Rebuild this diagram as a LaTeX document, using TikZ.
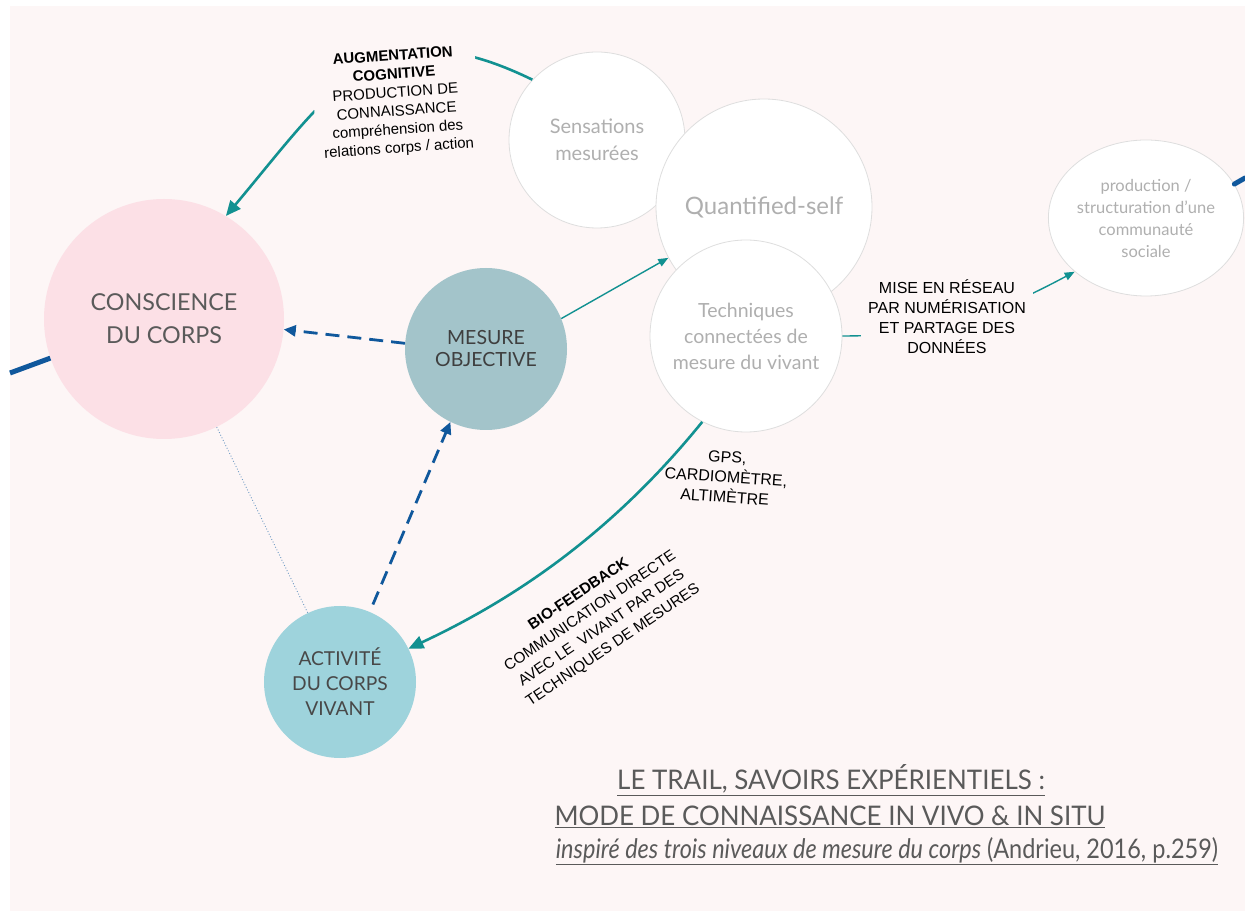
\documentclass[tikz,border=0pt]{standalone}
\usepackage{graphicx}
\usepackage{fontspec}
\setmainfont{Liberation Sans}
\newfontfamily\lato{Lato}
\usetikzlibrary{arrows.meta,shapes.geometric,positioning}

\definecolor{fond}{RGB}{253,246,246}
\definecolor{rose}{RGB}{252,224,230}
\definecolor{grisbleu}{RGB}{163,196,202}
\definecolor{cyanpale}{RGB}{158,211,220}
\definecolor{sarcelle}{RGB}{18,145,145}
\definecolor{bleu}{RGB}{16,88,156}
\definecolor{gristexte}{RGB}{90,90,90}
\definecolor{grisclair}{RGB}{175,175,175}
\definecolor{bord}{RGB}{222,222,222}

\begin{document}
\begin{tikzpicture}[x=1pt,y=1pt,
  bulle/.style={circle,draw=bord,line width=0.8pt,fill=white,text=grisclair,align=center,inner sep=0pt,font=\lato\fontsize{19.5}{26}\selectfont},
  disque/.style={circle,align=center,inner sep=0pt,text=gristexte},
  etiq/.style={fill=fond,align=center,inner xsep=7pt,inner ysep=6pt,font=\fontsize{15}{18.5}\selectfont},
  fleche/.style={sarcelle,line width=2.6pt,-{Triangle[length=15pt,width=13pt]}},
  fine/.style={sarcelle,line width=1.4pt,-{Triangle[length=10pt,width=8pt]}},
  tirets/.style={bleu,line width=2.8pt,dash pattern=on 14pt off 8pt,-{Triangle[length=12pt,width=11pt]}},
  titre/.style={text=gristexte,inner sep=0pt,font=\lato\fontsize{27}{30}\selectfont}]
\fill[white] (0,0) rectangle (1245,911);
\fill[fond] (10,0) rectangle (1245,905);
\useasboundingbox (0,0) rectangle (1245,911);

% les cercles
\node[disque,fill=rose,minimum size=240pt,font=\lato\fontsize{23.3}{33}\selectfont] (conscience) at (164,592) {CONSCIENCE\\DU CORPS};
\node[disque,fill=grisbleu,minimum size=162pt,text=gristexte!70!black,font=\lato\fontsize{19.5}{22}\selectfont] (mesure) at (486,562) {MESURE\\OBJECTIVE};
\node[disque,fill=cyanpale,minimum size=152pt,text=gristexte!80!black,font=\lato\fontsize{19.2}{25}\selectfont] (activite) at (340,229) {ACTIVIT\'E\\DU CORPS\\VIVANT};
\node[bulle,minimum size=176pt,font=\lato\fontsize{20}{27}\selectfont] (sensations) at (597,771) {Sensations\\mesur\'ees};
\node[bulle,minimum size=216pt,font=\lato\fontsize{24}{26}\selectfont] (quantified) at (764,704) {Quantified-self};
\node[bulle,minimum size=192pt] (techniques) at (746,575) {Techniques\\connect\'ees de\\mesure du vivant};
\node[ellipse,draw=bord,line width=0.8pt,fill=white,minimum width=186pt,minimum height=156pt,text=grisclair,align=center,inner sep=0pt,font=\lato\fontsize{16.5}{22}\selectfont] (production) at (1146,693) {production /\\structuration d’une\\communaut\'e\\sociale};

\coordinate (bordgauche) at (10,538);
\coordinate (borddroit) at (1245,733);
\draw[bleu,line width=5pt] (bordgauche) -- (conscience.199);
\draw[bleu,line width=5pt,line cap=round] (production.21) -- (borddroit);

% les liens
\draw[fleche] (sensations.137) .. controls +(154:170) and +(50:170) .. (conscience.59);
\draw[tirets] (mesure.176) -- (conscience.-5);
\draw[tirets,shorten <=8pt] (activite.67) -- (mesure.244);
\draw[bleu!60,line width=0.9pt,dotted] (conscience.-64) -- (activite.115);
\draw[fine] (mesure.22) -- (quantified.208);
\draw[fine] (techniques.east) to[out=0,in=208] (production.217);
\draw[fleche] (techniques.243) to[out=231,in=25,looseness=0.9] (activite.26);

% les etiquettes
\node[etiq,rotate=4] (augmentation) at (396,808) {\textbf{AUGMENTATION}\\\textbf{COGNITIVE}\\PRODUCTION DE\\CONNAISSANCE\\compr\'ehension des\\relations corps / action};
\node[etiq,font=\fontsize{16}{20}\selectfont] (reseau) at (947,594) {MISE EN R\'ESEAU\\PAR NUM\'ERISATION\\ET PARTAGE DES\\DONN\'EES};
\node[align=center,rotate=-4,font=\fontsize{16}{20}\selectfont] (capteurs) at (726,434) {GPS,\\CARDIOM\`ETRE,\\ALTIM\`ETRE};
\node[align=center,rotate=34,font=\fontsize{15.3}{20.5}\selectfont] (biofeedback) at (596,291) {\textbf{BIO-FEEDBACK}\\COMMUNICATION DIRECTE\\AVEC LE~ VIVANT PAR DES\\TECHNIQUES DE MESURES};

% le titre
\node[titre] (titre1) at (831,131) {\scalebox{0.96}[1]{\underline{LE TRAIL, SAVOIRS EXP\'ERIENTIELS :}}};
\node[titre] (titre2) at (830,94) {\scalebox{0.96}[1]{\underline{MODE DE CONNAISSANCE IN VIVO \& IN SITU}}};
\node[titre] (titre3) at (887,60) {\scalebox{0.87}[1]{\underline{\textit{inspir\'e des trois niveaux de mesure du corps} (Andrieu, 2016, p.259)}}};
\end{tikzpicture}
\end{document}
